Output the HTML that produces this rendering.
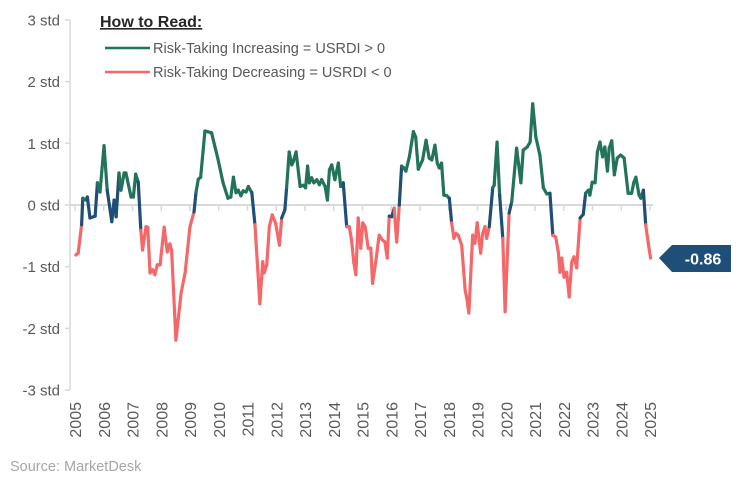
<!DOCTYPE html>
<html><head><meta charset="utf-8"><style>
body{margin:0;background:#fff;}
svg text{font-family:"Liberation Sans",sans-serif;}
</style></head><body>
<svg id="chart" width="743" height="488" xmlns="http://www.w3.org/2000/svg">
<g id="axes"></g>
<g id="series"></g>
<g>
<text x="100" y="27" font-size="16" font-weight="bold" fill="#262626" text-decoration="underline">How to Read:</text>
<line x1="105" y1="48" x2="150" y2="48" stroke="#23735a" stroke-width="2.5"/>
<text x="153" y="53" font-size="14.5" fill="#595959">Risk-Taking Increasing = USRDI &gt; 0</text>
<line x1="105" y1="72" x2="150" y2="72" stroke="#f4686a" stroke-width="2.5"/>
<text x="153" y="77" font-size="14.5" fill="#595959">Risk-Taking Decreasing = USRDI &lt; 0</text>
</g>
<g>
<polygon points="659,258 672,245 731,245 731,272 672,272" fill="#1f4e79"/>
<text x="703" y="264.5" font-size="16" font-weight="bold" fill="#fff" text-anchor="middle">-0.86</text>
</g>
<text x="10" y="471" font-size="14.5" fill="#a6a6a6">Source: MarketDesk</text>
</svg>
<script>
const yTicks=[3,2,1,0,-1,-2,-3];
const yearLabels=["2005","2006","2007","2008","2009","2010","2011","2012","2013","2014","2015","2016","2017","2018","2019","2020","2021","2022","2023","2024","2025"];
const dates=[2005.03,2005.11,2005.23,2005.27,2005.38,2005.43,2005.52,2005.70,2005.78,2005.87,2006.01,2006.12,2006.28,2006.36,2006.43,2006.53,2006.60,2006.71,2006.77,2006.95,2007.03,2007.11,2007.20,2007.29,2007.35,2007.47,2007.53,2007.61,2007.70,2007.78,2007.86,2007.96,2008.10,2008.21,2008.30,2008.36,2008.51,2008.69,2008.83,2009.00,2009.14,2009.21,2009.29,2009.37,2009.52,2009.75,2009.97,2010.15,2010.32,2010.42,2010.51,2010.60,2010.68,2010.77,2010.85,2010.95,2011.03,2011.15,2011.26,2011.43,2011.53,2011.58,2011.67,2011.76,2011.86,2011.98,2012.11,2012.19,2012.30,2012.36,2012.45,2012.54,2012.59,2012.69,2012.83,2012.94,2013.02,2013.09,2013.15,2013.23,2013.31,2013.41,2013.50,2013.58,2013.70,2013.78,2013.85,2013.93,2014.04,2014.16,2014.24,2014.33,2014.45,2014.54,2014.62,2014.70,2014.77,2014.85,2014.94,2015.01,2015.09,2015.20,2015.29,2015.35,2015.47,2015.58,2015.70,2015.78,2015.86,2015.93,2016.02,2016.10,2016.19,2016.28,2016.36,2016.44,2016.51,2016.63,2016.77,2016.85,2016.94,2017.09,2017.21,2017.32,2017.41,2017.52,2017.60,2017.67,2017.75,2017.83,2017.93,2018.02,2018.10,2018.18,2018.25,2018.33,2018.45,2018.57,2018.62,2018.70,2018.83,2018.91,2018.99,2019.11,2019.18,2019.26,2019.32,2019.41,2019.53,2019.58,2019.68,2019.77,2019.88,2019.96,2020.10,2020.19,2020.36,2020.51,2020.59,2020.73,2020.83,2020.92,2021.03,2021.17,2021.29,2021.41,2021.52,2021.62,2021.72,2021.81,2021.87,2021.93,2022.01,2022.10,2022.19,2022.28,2022.36,2022.45,2022.57,2022.68,2022.76,2022.86,2022.91,2022.99,2023.09,2023.17,2023.26,2023.35,2023.43,2023.52,2023.58,2023.67,2023.76,2023.86,2023.98,2024.10,2024.24,2024.36,2024.44,2024.51,2024.62,2024.68,2024.77,2024.85,2024.94,2025.02];
const values=[-0.81,-0.78,-0.32,0.11,0.08,0.13,-0.21,-0.18,0.36,0.21,0.96,0.24,-0.27,0.08,-0.19,0.52,0.24,0.52,0.52,0.13,0.13,0.50,0.37,-0.41,-0.73,-0.35,-0.36,-1.10,-1.05,-1.13,-0.97,-0.97,-0.36,-0.76,-0.63,-0.73,-2.19,-1.43,-1.10,-0.35,-0.11,0.21,0.42,0.45,1.20,1.17,0.75,0.36,0.11,0.13,0.45,0.20,0.24,0.15,0.23,0.21,0.30,0.20,-0.32,-1.60,-0.92,-1.10,-0.97,-0.35,-0.16,-0.30,-0.65,-0.21,-0.08,0.28,0.86,0.65,0.70,0.86,0.30,0.32,0.28,0.63,0.36,0.44,0.36,0.41,0.33,0.41,0.30,0.08,0.57,0.65,0.41,0.68,0.30,0.36,-0.35,-0.35,-0.57,-0.94,-1.13,-0.21,-0.70,-0.29,-0.35,-0.70,-0.70,-1.27,-0.89,-0.49,-0.57,-0.60,-0.86,-0.18,-0.19,-0.05,-0.60,0.00,0.63,0.60,0.55,0.78,1.19,1.10,0.58,0.73,1.05,0.76,0.73,0.97,0.68,0.60,0.68,0.16,0.15,0.11,-0.29,-0.54,-0.46,-0.49,-0.65,-1.38,-1.49,-1.75,-0.49,-0.62,-0.29,-0.78,-0.46,-0.35,-0.54,-0.35,0.28,0.32,1.02,0.16,-0.54,-1.73,-0.13,0.05,0.92,0.36,0.89,0.94,1.02,1.64,1.10,0.81,0.28,0.18,0.19,-0.49,-0.52,-0.76,-1.09,-0.86,-1.17,-1.09,-1.49,-0.92,-0.84,-1.02,-0.21,-0.15,0.19,0.24,0.16,0.37,0.36,0.86,1.02,0.78,0.94,0.55,0.92,1.04,0.49,0.76,0.81,0.76,0.19,0.19,0.37,0.45,0.16,0.11,0.24,-0.32,-0.62,-0.86];

const NS="http://www.w3.org/2000/svg";
const xOf=yr=>75+(yr-2005)*28.75;
const yOf=v=>205-v*61.7;
function mk(tag,attrs,parent){const e=document.createElementNS(NS,tag);for(const k in attrs)e.setAttribute(k,attrs[k]);parent.appendChild(e);return e;}
const axes=document.getElementById('axes');
let ax=mk('line',{x1:70,y1:20,x2:70,y2:390,stroke:'#d9d9d9','stroke-width':1.5},axes);


yTicks.forEach(t=>{
  const y=yOf(t);
  const tk=mk('line',{x1:65,y1:y,x2:70,y2:y,stroke:'#d9d9d9','stroke-width':1.5},axes);
  
  
  const tx=mk('text',{x:60,y:y+5.5,'font-size':15,fill:'#595959','text-anchor':'end'},axes);
  tx.textContent=t+' std';
  
  
});
const zl=mk('line',{x1:70,y1:yOf(0),x2:653,y2:yOf(0),stroke:'#d9d9d9','stroke-width':2},axes);


yearLabels.forEach(l=>{
  const x=xOf(+l);
  const tk=mk('line',{x1:x,y1:yOf(0),x2:x,y2:yOf(0)+6,stroke:'#d9d9d9','stroke-width':1.5},axes);
  
  
  const tx=mk('text',{x:0,y:0,'font-size':16,fill:'#595959','text-anchor':'end',transform:`translate(${x+6},402) rotate(-90)`},axes);
  tx.textContent=l;
  
  
});
const series=document.getElementById('series');
for(let i=0;i<values.length-1;i++){
  const a=values[i],b=values[i+1];
  let c;
  if(a>0&&b>0)c='#23735a';
  else if(a<-0.28&&b<-0.28)c='#f4686a';
  else if(Math.min(a,b)<0&&Math.max(a,b)>0)c='#1f4e79';
  else if(a<=0&&b<=0&&Math.min(a,b)>-0.28)c='#1f4e79';
  else c=(Math.max(a,b)<=0)?'#f4686a':'#1f4e79';
  const s=mk('line',{x1:xOf(dates[i]),y1:yOf(a),x2:xOf(dates[i+1]),y2:yOf(b),stroke:c,'stroke-width':3.2,'stroke-linecap':'round'},series);
  
  
}
</script>
</body></html>
